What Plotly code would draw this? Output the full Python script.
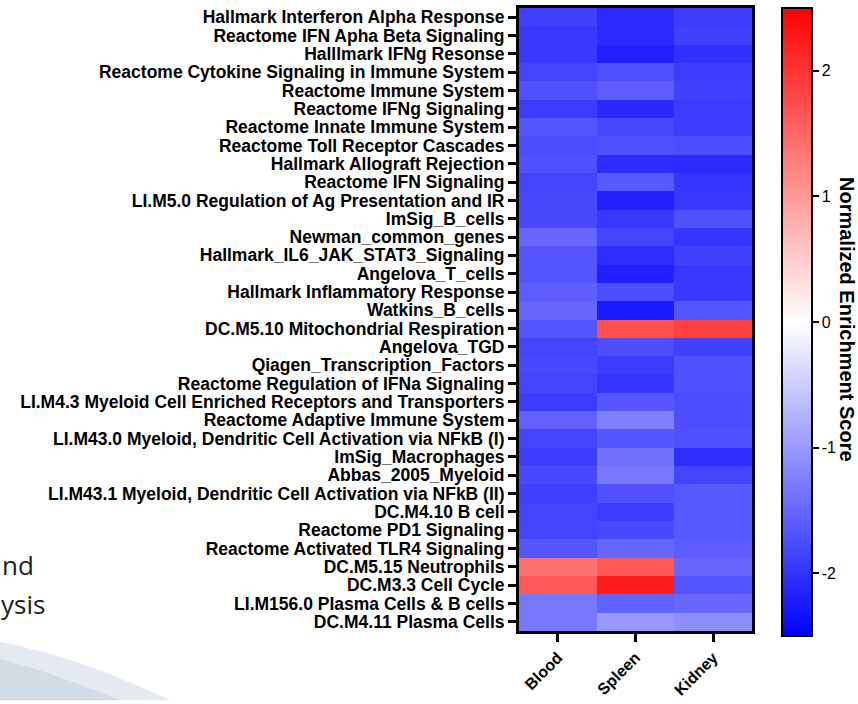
import plotly.graph_objects as go

gene_sets = [
    "Hallmark Interferon Alpha Response",
    "Reactome IFN Apha Beta Signaling",
    "Halllmark IFNg Resonse",
    "Reactome Cytokine Signaling in Immune System",
    "Reactome Immune System",
    "Reactome IFNg Signaling",
    "Reactome Innate Immune System",
    "Reactome Toll Receptor Cascades",
    "Hallmark Allograft Rejection",
    "Reactome IFN Signaling",
    "LI.M5.0 Regulation of Ag Presentation and IR",
    "ImSig_B_cells",
    "Newman_common_genes",
    "Hallmark_IL6_JAK_STAT3_Signaling",
    "Angelova_T_cells",
    "Hallmark Inflammatory Response",
    "Watkins_B_cells",
    "DC.M5.10 Mitochondrial Respiration",
    "Angelova_TGD",
    "Qiagen_Transcription_Factors",
    "Reactome Regulation of IFNa Signaling",
    "LI.M4.3 Myeloid Cell Enriched Receptors and Transporters",
    "Reactome Adaptive Immune System",
    "LI.M43.0 Myeloid, Dendritic Cell Activation via NFkB (I)",
    "ImSig_Macrophages",
    "Abbas_2005_Myeloid",
    "LI.M43.1 Myeloid, Dendritic Cell Activation via NFkB (II)",
    "DC.M4.10 B cell",
    "Reactome PD1 Signaling",
    "Reactome Activated TLR4 Signaling",
    "DC.M5.15 Neutrophils",
    "DC.M3.3 Cell Cycle",
    "LI.M156.0 Plasma Cells & B cells",
    "DC.M4.11 Plasma Cells",
]

tissues = ["Blood", "Spleen", "Kidney"]

nes_blood = [-1.87, -1.95, -1.95, -1.83, -1.72, -1.91, -1.67, -1.75, -1.72, -1.83,
             -1.79, -1.79, -1.50, -1.67, -1.67, -1.60, -1.50, -1.67, -1.83, -1.79,
             -1.83, -1.91, -1.55, -1.83, -1.91, -1.79, -1.87, -1.83, -1.83, -1.67,
             1.40, 1.64, -1.32, -1.32]
nes_spleen = [-2.09, -2.09, -2.20, -1.72, -1.60, -2.10, -1.79, -1.72, -2.07, -1.64,
              -2.18, -1.95, -1.83, -2.07, -2.20, -1.75, -2.24, 1.72, -1.75, -1.91,
              -1.99, -1.66, -1.25, -1.67, -1.40, -1.32, -1.72, -1.91, -1.79, -1.50,
              1.64, 2.23, -1.55, -1.01]
nes_kidney = [-1.91, -1.87, -2.03, -1.91, -1.87, -1.91, -1.91, -1.75, -2.09, -1.99,
              -1.95, -1.72, -1.99, -1.87, -1.95, -1.95, -1.67, 1.87, -1.87, -1.72,
              -1.72, -1.75, -1.75, -1.72, -2.07, -1.83, -1.64, -1.64, -1.64, -1.60,
              -1.50, -1.66, -1.50, -1.12]

cbar_ticks = [-2, -1, 0, 1, 2]

z = [[b, s, k] for b, s, k in zip(nes_blood, nes_spleen, nes_kidney)]

W, H = 858, 704
ML, MR, MT, MB = 519, 106, 5, 70
PW, PH = W - ML - MR, H - MT - MB


def px(x):
    return (x - ML) / PW


def py(y):
    return (H - MB - y) / PH


fig = go.Figure()
fig.add_trace(go.Heatmap(
    z=z, x=tissues, y=gene_sets,
    zmin=-2.5, zmax=2.5,
    colorscale=[[0, "#0000ff"], [0.5, "#ffffff"], [1, "#ff0000"]],
    xgap=0, ygap=0,
    colorbar=dict(
        thickness=30, len=628, lenmode="pixels",
        x=px(782), xanchor="left", xpad=0,
        y=1, yanchor="top", ypad=0,
        outlinewidth=2, outlinecolor="black",
        tickvals=cbar_ticks, ticktext=[str(t) for t in cbar_ticks],
        ticks="outside", ticklen=6, tickwidth=2, tickcolor="black",
        tickfont=dict(family="Liberation Sans, Arial", size=16, color="black"),
    ),
))

fig.update_layout(
    width=W, height=H,
    margin=dict(l=ML, r=MR, t=MT, b=MB),
    paper_bgcolor="white", plot_bgcolor="white",
    font=dict(family="Liberation Sans, Arial", color="black"),
    xaxis=dict(
        showline=True, mirror=True, linecolor="black", linewidth=3,
        ticks="outside", ticklen=8, tickwidth=3, tickcolor="black",
        tickangle=-45,
        tickfont=dict(family="Liberation Sans, Arial", size=16, color="black", weight="bold"),
        showgrid=False, zeroline=False,
    ),
    yaxis=dict(
        autorange="reversed",
        tickmode="array", tickvals=gene_sets, ticktext=gene_sets,
        showline=True, mirror=True, linecolor="black", linewidth=3,
        ticks="outside", ticklen=8, tickwidth=3, tickcolor="black",
        tickfont=dict(family="Liberation Sans, Arial", size=17.5, color="black", weight="bold"),
        showgrid=False, zeroline=False,
    ),
    shapes=[
        dict(type="path", xref="paper", yref="paper", layer="below",
             path=(f"M {px(0)},{py(645)} Q {px(80)},{py(660)} {px(170)},{py(704)} "
                   f"L {px(0)},{py(704)} Z"),
             fillcolor="rgba(222,229,236,0.8)", line=dict(width=0)),
        dict(type="path", xref="paper", yref="paper", layer="below",
             path=(f"M {px(0)},{py(662)} Q {px(50)},{py(675)} {px(120)},{py(704)} "
                   f"L {px(0)},{py(704)} Z"),
             fillcolor="rgba(200,210,222,0.6)", line=dict(width=0)),
    ],
    annotations=[
        dict(text="Normalized Enrichment Score", textangle=90, showarrow=False,
             xref="paper", yref="paper", x=px(847), y=py(319),
             xanchor="center", yanchor="middle",
             font=dict(family="Liberation Sans, Arial", size=20, color="black", weight="bold")),
        dict(text="nd", showarrow=False, xref="paper", yref="paper",
             x=px(36), y=py(567), xanchor="right", yanchor="middle",
             font=dict(family="Open Sans", size=26, color="#222222")),
        dict(text="ysis", showarrow=False, xref="paper", yref="paper",
             x=px(47), y=py(607), xanchor="right", yanchor="middle",
             font=dict(family="Open Sans", size=26, color="#222222")),
    ],
)

fig.write_html("out.html", config={"displayModeBar": False},
               post_script="document.body.style.margin='0px';")
